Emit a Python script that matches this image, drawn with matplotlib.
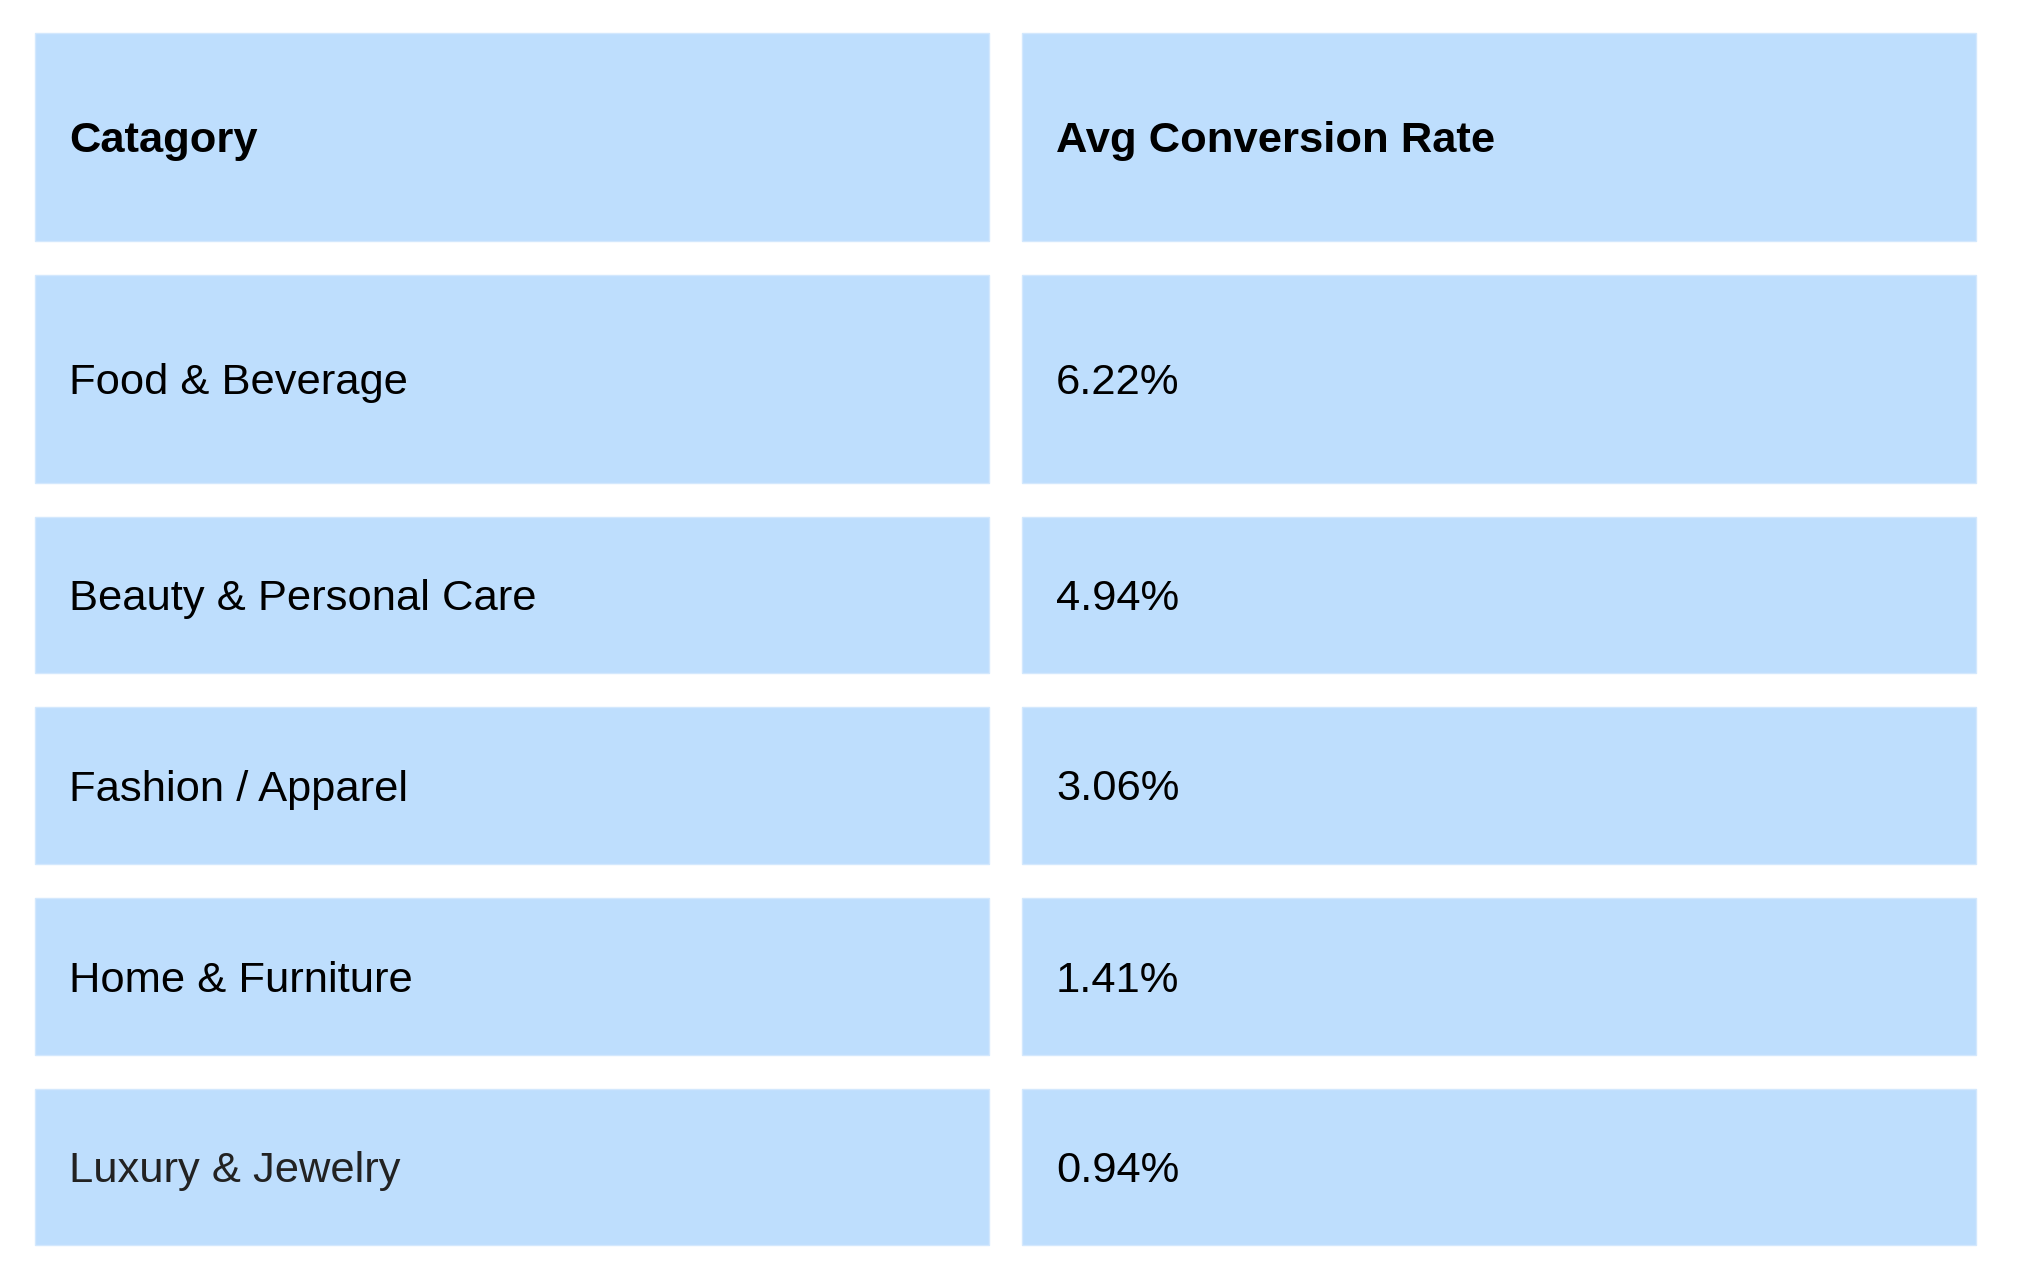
import matplotlib
matplotlib.use("Agg")
from matplotlib import pyplot as plt
from matplotlib.patches import Rectangle

# table content
headers = ["Catagory", "Avg Conversion Rate"]
categories = ["Food & Beverage", "Beauty & Personal Care", "Fashion / Apparel",
              "Home & Furniture", "Luxury & Jewelry"]
conversion_rates = [6.22, 4.94, 3.06, 1.41, 0.94]

# layout in pixels (figure is 2018 x 1282 at dpi 100)
W, H = 2018, 1282
left, top = 35, 33
col_w, col_gap = 954, 33
row_heights = [208, 208, 156, 157, 157, 156]
row_gap = 34
pad_x = 34
cap_half = 15

cell_color = "#BEDEFD"
edge_color = "#D3E8FD"

plt.rcParams["font.family"] = ["Liberation Sans", "DejaVu Sans"]

fig = plt.figure(figsize=(W / 100, H / 100), dpi=100)
ax = fig.add_axes([0, 0, 1, 1])
ax.set_xlim(0, W)
ax.set_ylim(H, 0)
ax.axis("off")

rows = [headers] + [[c, f"{v:.2f}%"] for c, v in zip(categories, conversion_rates)]

y = top
for i, (row, rh) in enumerate(zip(rows, row_heights)):
    for j, txt in enumerate(row):
        x = left + j * (col_w + col_gap)
        ax.add_patch(Rectangle((x, y), col_w, rh, facecolor=cell_color,
                               edgecolor=edge_color, lw=1))
        color = "#222222" if (i == len(rows) - 1 and j == 0) else "black"
        ax.text(x + pad_x, y + rh / 2 + cap_half, txt, fontsize=31.3,
                fontweight="bold" if i == 0 else "normal",
                ha="left", va="baseline", color=color)
    y += rh + row_gap

fig.savefig("out.png", dpi=100, facecolor="white")
